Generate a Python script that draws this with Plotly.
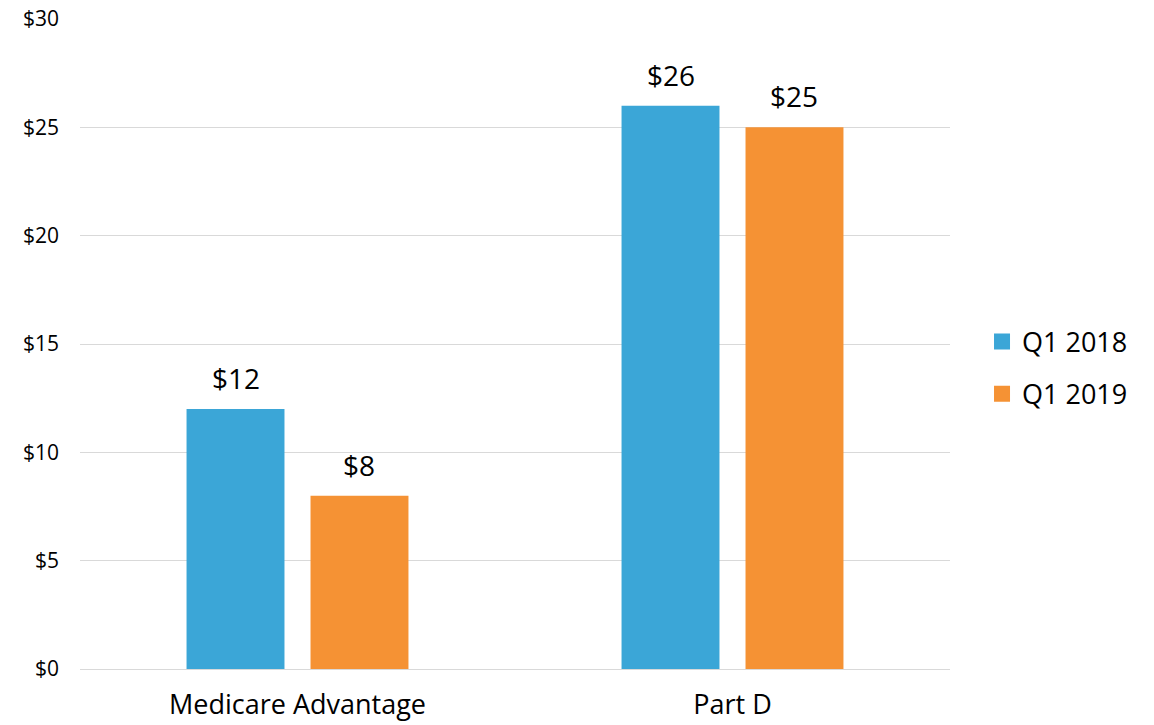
import plotly.graph_objects as go

categories = ["Medicare Advantage", "Part D"]
series_names = ["Q1 2018", "Q1 2019"]
values_2018 = [12, 26]
values_2019 = [8, 25]
colors = ["#3BA6D7", "#F59234"]
y_ticks = [0, 5, 10, 15, 20, 25, 30]
y_tick_labels = ["$0", "$5", "$10", "$15", "$20", "$25", "$30"]

FONT = "Open Sans, sans-serif"
BARGAP = 0.43
GROUPGAP = 0.21
PLOT_W = 1154 - 80 - 204

fig = go.Figure()
series = [values_2018, values_2019]
for i, (name, vals) in enumerate(zip(series_names, series)):
    fig.add_trace(go.Bar(
        x=categories, y=vals, name=name,
        marker=dict(color=colors[i], line=dict(width=0)),
        showlegend=False,
    ))

# legend entries drawn as larger square swatches
for i, name in enumerate(series_names):
    fig.add_trace(go.Scatter(
        x=[None], y=[None], name=name, mode="markers",
        marker=dict(symbol="square", size=17, color=colors[i]),
        legendgroup=name, showlegend=True,
    ))

# value labels above each bar, offset to the bar's slot within the group
slot_px = PLOT_W / len(categories) * (1 - BARGAP) / len(series)
for i, vals in enumerate(series):
    shift = (i - (len(series) - 1) / 2) * slot_px
    for cat, v in zip(categories, vals):
        fig.add_annotation(
            x=cat, y=v, xref="x", yref="y", text=f"${v}",
            showarrow=False, xshift=shift, yshift=10, yanchor="bottom",
            font=dict(size=28, family=FONT, color="#000000"),
        )

fig.update_layout(
    width=1154, height=725,
    margin=dict(l=80, r=204, t=19, b=56),
    plot_bgcolor="white", paper_bgcolor="white",
    barmode="group", bargap=BARGAP, bargroupgap=GROUPGAP,
    font=dict(family=FONT, color="#000000"),
    showlegend=True,
    legend=dict(
        x=1.0368, y=0.463, xanchor="left", yanchor="middle",
        font=dict(size=27, family=FONT, color="#000000"),
        tracegroupgap=14,
        itemwidth=30,
    ),
    xaxis=dict(
        showgrid=False, showline=True, linecolor="#d9d9d9", linewidth=1,
        tickfont=dict(size=27, family=FONT),
        ticks="", ticklabelstandoff=12, automargin=False,
    ),
    yaxis=dict(
        range=[0, 30], tickvals=y_ticks, ticktext=y_tick_labels,
        showgrid=True, gridcolor="#d9d9d9", gridwidth=1,
        zeroline=False, showline=False,
        tickfont=dict(size=21, family=FONT),
        ticks="", ticklabelstandoff=20, automargin=False,
    ),
)

fig.write_html("out.html")
